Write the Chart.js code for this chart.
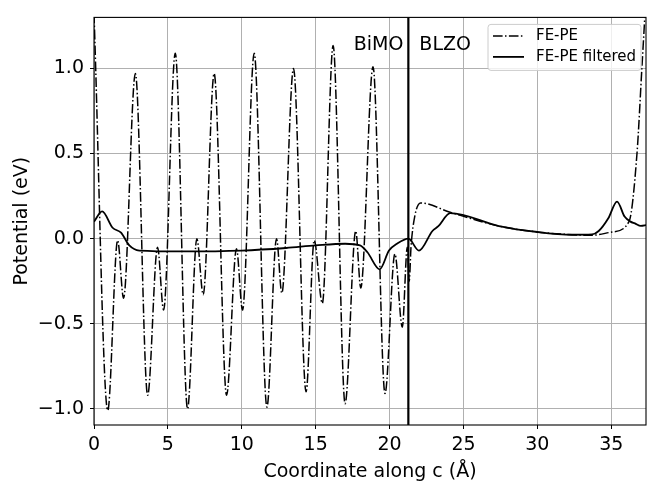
<!DOCTYPE html>
<html>
<head>
<meta charset="utf-8">
<script src="https://cdn.jsdelivr.net/npm/chart.js@4.4.1/dist/chart.umd.min.js"></script>
<style>
html, body { margin: 0; padding: 0; background: #fff; }
</style>
</head>
<body>
<canvas id="GraficoPotencial" width="647" height="482"></canvas>
<script>
// FE-PE (raw): extrema + a few shoulder points
var fePeX = [0, 0.93, 1.6, 2.0, 2.8, 3.63, 4.3, 4.71, 5.5, 6.33, 6.96, 7.39, 8.13, 8.97, 9.64, 10.05,
             10.84, 11.7, 12.35, 12.71, 13.5, 14.35, 14.9, 15.45, 16.18, 16.99, 17.71, 18.05, 18.88,
             19.69, 20.36, 20.86, 21.2, 21.33, 21.45, 21.7, 22.1, 24.1, 27.4, 30.0, 32.35, 33.7,
             35.05, 36.2, 36.74, 37.07, 37.4];
var fePeY = [1.32, -1.01, -0.01, -0.35, 0.97, -0.92, -0.05, -0.42, 1.09, -1.0, 0.0, -0.33, 0.97, -0.92, -0.06, -0.42,
             1.09, -0.99, 0.0, -0.32, 1.0, -0.9, -0.01, -0.38, 1.135, -0.97, 0.045, -0.29, 1.01,
             -0.91, -0.09, -0.52, -0.05, -0.25, -0.05, 0.13, 0.21, 0.155, 0.074, 0.039, 0.023, 0.02,
             0.039, 0.10, 0.5, 1.0, 1.5];

// FE-PE filtered
var filtX = [0, 0.55, 1.26, 1.83, 2.39, 3.07, 6, 10, 13, 15, 17, 18.0, 18.5, 19.33, 19.96, 20.5, 21.27,
             21.99, 22.9, 23.3, 24.1, 27.4, 30.0, 32.35, 33.7, 34.15, 34.8, 35.39, 35.9, 36.3, 36.6, 37.0, 37.4];
var filtY = [0.10, 0.16, 0.064, 0.035, -0.04, -0.07, -0.075, -0.07, -0.055, -0.04, -0.03, -0.04, -0.08, -0.18, -0.07, -0.03, 0.0,
             -0.07, 0.045, 0.073, 0.15, 0.074, 0.039, 0.023, 0.025, 0.045, 0.12, 0.218, 0.13, 0.1, 0.09, 0.075, 0.08];

var xTicks = [0, 5, 10, 15, 20, 25, 30, 35];
var yTicks = [-1.0, -0.5, 0.0, 0.5, 1.0];
var interfaceX = 21.27;
var regionLabels = ["BiMO", "BLZO"];
var seriesLabels = ["FE-PE", "FE-PE filtered"];

var dashDot = [9.6, 2.4, 1.5, 2.4];
var fonte = '"DejaVu Sans", sans-serif';

function pares(xs, ys) {
    return xs.map(function (x, i) { return { x: x, y: ys[i] }; });
}

// interface line, frame, region labels and legend box
var decoracao = {
    id: 'decoracao',
    afterDatasetsDraw: function (chart) {
        var ctx = chart.ctx, area = chart.chartArea;
        var sx = chart.scales.x, sy = chart.scales.y;
        var px = sx.getPixelForValue(interfaceX);
        ctx.save();

        ctx.strokeStyle = '#000';
        ctx.lineWidth = 2.2;
        ctx.beginPath();
        ctx.moveTo(px, area.top);
        ctx.lineTo(px, area.bottom);
        ctx.stroke();

        ctx.lineWidth = 1.1;
        ctx.strokeRect(area.left, area.top, area.right - area.left, area.bottom - area.top);

        ctx.fillStyle = '#000';
        ctx.font = '19px ' + fonte;
        ctx.textBaseline = 'alphabetic';
        var ty = sy.getPixelForValue(1.107);
        ctx.textAlign = 'right';
        ctx.fillText(regionLabels[0], px - 5, ty);
        ctx.textAlign = 'left';
        ctx.fillText(regionLabels[1], px + 11, ty);

        // legend
        var w = 153, h = 46;
        var bx = area.right - 5 - w, by = area.top + 7;
        ctx.beginPath();
        ctx.roundRect(bx, by, w, h, 3);
        ctx.fillStyle = 'rgba(255,255,255,0.8)';
        ctx.fill();
        ctx.strokeStyle = '#cccccc';
        ctx.lineWidth = 1;
        ctx.stroke();

        ctx.strokeStyle = '#000';
        ctx.lineWidth = 1.5;
        ctx.setLineDash(dashDot);
        ctx.beginPath();
        ctx.moveTo(bx + 5, by + 11.5);
        ctx.lineTo(bx + 36, by + 11.5);
        ctx.stroke();
        ctx.setLineDash([]);
        ctx.lineWidth = 1.8;
        ctx.beginPath();
        ctx.moveTo(bx + 5, by + 32.5);
        ctx.lineTo(bx + 36, by + 32.5);
        ctx.stroke();

        ctx.fillStyle = '#000';
        ctx.font = '15px ' + fonte;
        ctx.textAlign = 'left';
        ctx.textBaseline = 'middle';
        ctx.fillText(seriesLabels[0], bx + 48, by + 11.5);
        ctx.fillText(seriesLabels[1], bx + 48, by + 32.5);
        ctx.restore();
    }
};

new Chart(document.getElementById('GraficoPotencial'), {
    type: 'line',
    data: {
        datasets: [{
            label: seriesLabels[0],
            data: pares(fePeX, fePeY),
            borderColor: '#000',
            borderWidth: 1.5,
            borderDash: dashDot,
            pointRadius: 0,
            fill: false,
            cubicInterpolationMode: 'monotone'
        }, {
            label: seriesLabels[1],
            data: pares(filtX, filtY),
            borderColor: '#000',
            borderWidth: 1.8,
            pointRadius: 0,
            fill: false,
            cubicInterpolationMode: 'monotone'
        }]
    },
    options: {
        responsive: false,
        animation: false,
        layout: { padding: { top: 12, right: 1, left: 0, bottom: 0 } },
        plugins: {
            legend: { display: false },
            tooltip: { enabled: false }
        },
        scales: {
            x: {
                type: 'linear',
                min: 0,
                max: 37.35,
                afterBuildTicks: function (axis) {
                    axis.ticks = xTicks.map(function (v) { return { value: v }; });
                },
                afterFit: function (axis) { axis.height = 57; },
                grid: { color: '#b0b0b0', lineWidth: 1, tickLength: 4, tickColor: '#000' },
                border: { display: false },
                ticks: {
                    color: '#000',
                    padding: 5,
                    maxRotation: 0,
                    font: { family: fonte, size: 19 },
                    callback: function (v) { return String(v); }
                },
                title: {
                    display: true,
                    text: 'Coordinate along c (Å)',
                    color: '#000',
                    font: { family: fonte, size: 19 },
                    padding: { top: 0, bottom: -1 }
                }
            },
            y: {
                type: 'linear',
                min: -1.095,
                max: 1.30,
                afterBuildTicks: function (axis) {
                    axis.ticks = yTicks.map(function (v) { return { value: v }; });
                },
                afterFit: function (axis) { axis.width = 94; },
                grid: { color: '#b0b0b0', lineWidth: 1, tickLength: 4, tickColor: '#000' },
                border: { display: false },
                ticks: {
                    color: '#000',
                    padding: 6,
                    font: { family: fonte, size: 19 },
                    callback: function (v) { return v.toFixed(1).replace('-', '\u2212'); }
                },
                title: {
                    display: true,
                    text: 'Potential (eV)',
                    color: '#000',
                    font: { family: fonte, size: 19 },
                    padding: { top: 11, bottom: 0 }
                }
            }
        }
    },
    plugins: [decoracao]
});
</script>
</body>
</html>
